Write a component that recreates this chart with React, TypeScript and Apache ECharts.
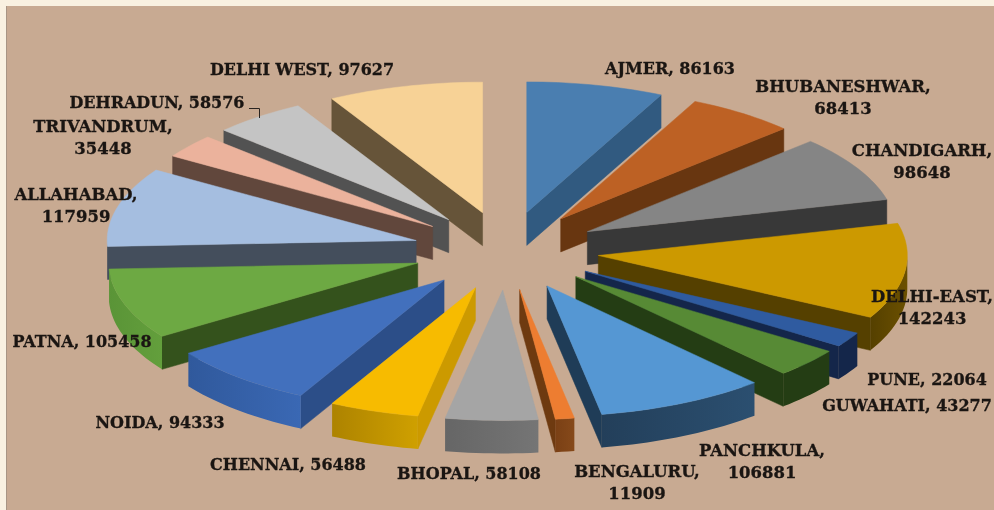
import React, { useEffect, useRef } from "react";
import * as echarts from "echarts";

const categories = ["AJMER","BHUBANESHWAR","CHANDIGARH","DELHI-EAST","PUNE","GUWAHATI","PANCHKULA","BENGALURU","BHOPAL","CHENNAI","NOIDA","PATNA","ALLAHABAD","TRIVANDRUM","DEHRADUN","DELHI WEST"];
const values = [86163,68413,98648,142243,22064,43277,106881,11909,58108,56488,94333,105458,117959,35448,58576,97627];
const topColors = ["#4a7eb0","#bd6124","#858585","#cc9900","#2f5ba0","#578a35","#5597d3","#ed7d31","#a5a5a5","#f7bb00","#4270bd","#6da943","#a5bee0","#ebb29c","#c4c4c4","#f7d296"];
const sideColors = ["#315a80","#683610","#383838","#554000","#14264a","#243d14","#1f3c57","#6e3a10","#6a6a6a","#cc9a00","#2c4e88","#34521c","#444e5c","#61473c","#525252","#665439"];
const rimLeft = ["#315a80","#683610","#383838","#6b5000","#14264a","#243d14","#2b4f70","#86491a","#757575","#cfa000","#3a68b4","#639f3c","#444e5c","#61473c","#525252","#665439"];
const rimRight = ["#315a80","#683610","#383838","#554000","#14264a","#243d14","#233f5a","#7a4015","#666666","#ad8300","#30599c","#5a9437","#444e5c","#61473c","#525252","#665439"];
const wrapped = [false,true,true,true,false,false,true,true,false,false,false,false,true,true,false,false];
const labelX = [670,843,922,932,927,907,762,637,469,288,160,82,76,103,157,302];
const labelY = [68,97,161,307,379,405,461,482,473,464,422,341,205,137,102,69];

const CX = 506, CY = 250.7, RX = 309, RY = 130.5, EXPLODE = 93, DEPTH = 33;
const FONT = 'bold 16px "DejaVu Serif"';
const total = values.reduce((a, b) => a + b, 0);
const deg = Math.PI / 180;

const order = values.map((_, i) => i);
const startOf = (i: number) => values.slice(0, i).reduce((a, b) => a + b, 0) / total * 360;
const endOf = (i: number) => startOf(i) + values[i] / total * 360;
const midOf = (i: number) => (startOf(i) + endOf(i)) / 2;
order.sort((a, b) => Math.cos(midOf(b) * deg) - Math.cos(midOf(a) * deg));

function renderSlice(_: any, api: any) {
  const i = api.value(0) as number;
  const a0 = startOf(i), a1 = endOf(i), m = midOf(i) * deg;
  const ax = CX + EXPLODE * Math.sin(m);
  const ay = CY - EXPLODE * (RY / RX) * Math.cos(m);
  const pt = (a: number, dy = 0) => [ax + RX * Math.sin(a * deg), ay - RY * Math.cos(a * deg) + dy];
  const arc = (from: number, to: number, dy = 0) => {
    const n = Math.max(2, Math.ceil((to - from) / 1.5));
    const out: number[][] = [];
    for (let k = 0; k <= n; k++) out.push(pt(from + ((to - from) * k) / n, dy));
    return out;
  };
  const children: any[] = [];
  const side = sideColors[i];
  const radial = (a: number) => ({
    type: "polygon",
    shape: { points: [[ax, ay], pt(a), pt(a, DEPTH), [ax, ay + DEPTH]] },
    style: { fill: side, stroke: side, lineWidth: 0.5 },
  });
  if (Math.sin(a0 * deg) < -1e-6) children.push(radial(a0));
  if (Math.sin(a1 * deg) > 1e-6) children.push(radial(a1));
  const f = Math.max(a0, 90), t = Math.min(a1, 270);
  if (t > f) {
    const top = arc(f, t);
    const bot = arc(f, t, DEPTH).reverse();
    children.push({
      type: "polygon",
      shape: { points: top.concat(bot) },
      style: {
        fill: new echarts.graphic.LinearGradient(1, 0, 0, 0, [
          { offset: 0, color: rimLeft[i] },
          { offset: 1, color: rimRight[i] },
        ]),
      },
    });
  }
  const surface = [[ax, ay]].concat(arc(a0, a1));
  children.push({
    type: "polygon",
    shape: { points: surface },
    style: { fill: topColors[i], stroke: topColors[i], lineWidth: 0.5 },
  });
  return { type: "group", children };
}

export default function App() {
  const ref = useRef<HTMLDivElement>(null);
  useEffect(() => {
    document.body.style.margin = "0";
    document.body.style.overflow = "hidden";
    const chart = echarts.init(ref.current!, null, { renderer: "svg" });
    chart.setOption({
      animation: false,
      backgroundColor: "#f9f1e1",
      graphic: [
        { type: "rect", z: 0, silent: true, shape: { x: 6, y: 6, width: 988, height: 504 }, style: { fill: "#c8aa92" } },
        { type: "line", z: 0, silent: true, shape: { x1: 6.5, y1: 6, x2: 6.5, y2: 510 }, style: { stroke: "#a89584", lineWidth: 1 } },
        { type: "polyline", z: 10, silent: true, shape: { points: [[249, 108.5], [259.5, 108.5], [259.5, 118]] }, style: { stroke: "#2a2420", lineWidth: 1, fill: "none" } },
        ...categories.map((c, i) => ({
          type: "text",
          z: 10,
          silent: true,
          x: labelX[i],
          y: labelY[i],
          scaleX: wrapped[i] ? 1.03 : 1,
          scaleY: 1.08,
          style: {
            text: `${c},${wrapped[i] ? "\n" : " "}${values[i]}`,
            font: FONT,
            lineHeight: 20,
            fill: "#1a1512",
            stroke: "#1a1512",
            lineWidth: 0.3,
            align: "center",
            verticalAlign: "middle",
          },
        })),
      ],
      series: [
        {
          type: "custom",
          coordinateSystem: "none",
          z: 5,
          silent: true,
          data: order.map((i) => [i, values[i]]),
          renderItem: renderSlice,
        },
      ],
    });
    return () => chart.dispose();
  }, []);
  return <div ref={ref} style={{ width: 994, height: 510, filter: "blur(0.5px)" }} />;
}
